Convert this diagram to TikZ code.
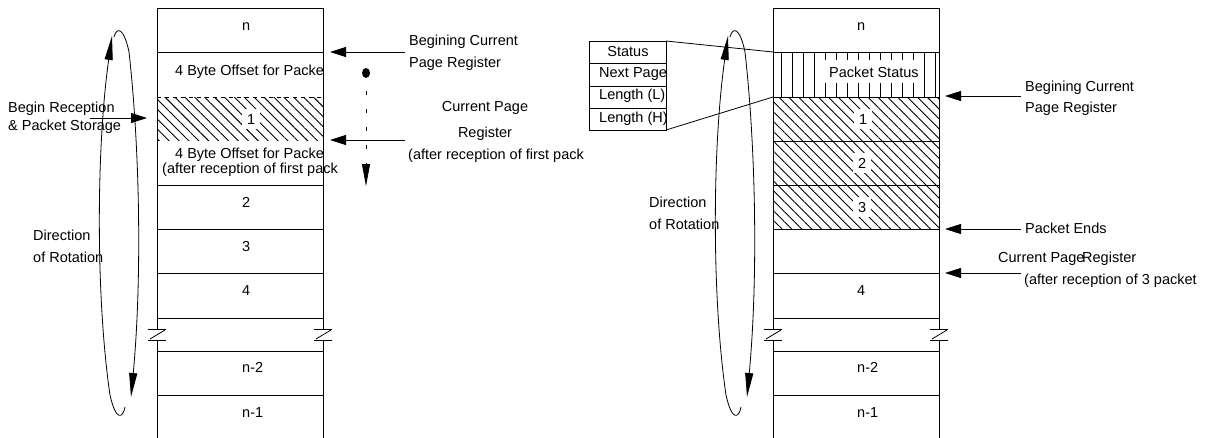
\documentclass[tikz,border=0pt]{standalone}
\usepackage{fontspec}
\setmainfont{Liberation Sans}
\usetikzlibrary{calc}
\usetikzlibrary{arrows.meta,patterns.meta}
\def\ColW{166}
\def\LeftX{157}
\def\RightX{773}
\def\Shift{616}
\def\GapTop{329}
\def\GapBot{340}

\begin{document}
\begin{tikzpicture}[x=1pt,y=-1pt,
  every node/.style={font=\fontsize{14.5}{15}\selectfont, inner sep=0pt, anchor=base west},
  wall/.style={line width=1pt},
  thin/.style={line width=.8pt},
  hatch/.style={pattern={Lines[angle=-45,distance=7pt,line width=.9pt]}},
  bars/.style={pattern={Lines[angle=90,distance=11pt,line width=.9pt]}},
  ptr/.style={line width=.8pt,-{Triangle[length=16pt,width=10pt]}},
  spin/.style={line width=.8pt,-{Triangle[length=24pt,width=8pt]}},
  cut/.style={fill=white, inner sep=5pt}]
  \useasboundingbox (0,0) rectangle (1208,437);
  % hatched packets
  \fill [hatch] (\LeftX,97) rectangle (\LeftX+\ColW,140);
  \fill [hatch] (\RightX,97) rectangle (\RightX+\ColW,229);
  \fill [bars] (\RightX,52) rectangle (\RightX+\ColW,97);
  % buffer rings
  \foreach \c in {\LeftX,\RightX}
    {
      \draw [wall] (\c,8) -- (\c+\ColW,8);
      \draw [wall] (\c,8) -- (\c,\GapTop) (\c,\GapBot) -- (\c,440);
      \draw [wall] (\c+\ColW,8) -- (\c+\ColW,\GapTop) (\c+\ColW,\GapBot) -- (\c+\ColW,440);
      \foreach \y in {52,185,229,273,318,351,395}
        \draw [wall] (\c,\y) -- (\c+\ColW,\y);
      % break marks
      \foreach \s in {\c,\c+\ColW}
        {
          \draw [thin] (\s-9,\GapTop) -- (\s+9,\GapTop);
          \draw [thin] (\s-9,\GapBot) -- (\s+9,\GapBot);
          \draw [thin] (\s-7,\GapBot-1) -- (\s+8,\GapTop+1);
        }
    }
  \draw [thin, dash pattern=on 4pt off 4pt] (\LeftX,97) -- (\LeftX+\ColW,97);
  \draw [wall] (\RightX,97) -- (\RightX+\ColW,97);
  \draw [wall] (\RightX,141) -- (\RightX+\ColW,141);
  % left ring labels
  \node (Ln) at (242,30) {n};
  \node (Loff) at (175,75) {4 Byte Offset for Packe};
  \node [cut] (L1) at (242,124) {1};
  \node (Loff2) at (175,158) {4 Byte Offset for Packe};
  \node (Lafter) at (162,173) {(after reception of first pack};
  \node (L2) at (242,207) {2};
  \node (L3) at (242,251) {3};
  \node (L4) at (242,295) {4};
  \node (Lm2) at (242,372) {n-2};
  \node (Lm1) at (242,417) {n-1};
  % right ring labels
  \node (Rn) at (857,30) {n};
  \node [fill=white, inner xsep=4pt, inner ysep=6pt] (Rstat) at (825,77) {Packet Status};
  \node [cut] (R1) at (854,124) {1};
  \node [cut] (R2) at (853,168) {2};
  \node [cut] (R3) at (853,212) {3};
  \node (R4) at (857,295) {4};
  \node (Rm2) at (857,372) {n-2};
  \node (Rm1) at (857,417) {n-1};
  % direction of rotation
  \foreach \dx in {0,\Shift}
    {
      \begin{scope}[xshift=\dx]
        \draw [spin] (125,407) .. controls (123,418) and (116,422) .. (110,395)
          .. controls (96,300) and (96,150) .. (112,36);
        \draw [spin] (114,37) .. controls (117,26) and (124,28) .. (129,52)
          .. controls (140,150) and (142,280) .. (131,397);
      \end{scope}
    }
  \node (LDir) at (33,240) {Direction};
  \node (LRot) at (33,262) {of Rotation};
  \node (RDir) at (649,207) {Direction};
  \node (RRot) at (649,229) {of Rotation};
  % left pointers
  \coordinate (RecFrom) at (90,118);
  \coordinate (RecTo) at (147,118);
  \coordinate (LBegFrom) at (405,52);
  \coordinate (LBegTo) at (330,52);
  \coordinate (LCurFrom) at (405,140);
  \coordinate (LCurTo) at (330,140);
  \coordinate (Dot) at (366,73);
  \coordinate (DotFrom) at (366,91);
  \coordinate (DotTo) at (366,186);
  \node (Rec1) at (8,112) {Begin Reception};
  \node (Rec2) at (8,130) {\& Packet Storage};
  \draw [ptr] (RecFrom) -- (RecTo);
  \draw [ptr] (LBegFrom) -- (LBegTo);
  \draw [ptr] (LCurFrom) -- (LCurTo);
  \fill (Dot) ellipse (4pt and 5pt);
  \draw [line width=.8pt, dash pattern=on 3.5pt off 14.5pt, -{Triangle[length=22pt,width=8pt]}] (DotFrom) -- (DotTo);
  \node (LBeg1) at (409,45) {Begining Current};
  \node (LBeg2) at (409,67) {Page Register};
  \node [anchor=base] (LCur1) at (485,111) {Current Page};
  \node [anchor=base] (LCur2) at (485,137) {Register};
  \node (LCur3) at (408,159) {(after reception of first pack};
  % status bytes
  \draw [wall] (589,41) rectangle (666,130);
  \foreach \y in {63,86,108}
    \draw [wall] (589,\y) -- (666,\y);
  \node [anchor=base] (Status) at (628,56) {Status};
  \node (Next) at (599,77) {Next Page};
  \node (LenL) at (599,99) {Length (L)};
  \node (LenH) at (599,122) {Length (H)};
  \coordinate (TabTop) at (666,41);
  \coordinate (TabBot) at (666,130);
  \coordinate (StatTop) at (\RightX,52);
  \coordinate (StatBot) at (\RightX,97);
  \draw [thin] (TabTop) -- (StatTop);
  \draw [thin] (TabBot) -- (StatBot);
  % right pointers
  \coordinate (RBegFrom) at (1021,96);
  \coordinate (RBegTo) at (945,96);
  \coordinate (EndFrom) at (1021,229);
  \coordinate (EndTo) at (945,229);
  \coordinate (RCurFrom) at (1021,273);
  \coordinate (RCurTo) at (945,273);
  \draw [ptr] (RBegFrom) -- (RBegTo);
  \draw [ptr] (EndFrom) -- (EndTo);
  \draw [ptr] (RCurFrom) -- (RCurTo);
  \node (RBeg1) at (1025,91) {Begining Current};
  \node (RBeg2) at (1025,112) {Page Register};
  \node (Ends) at (1025,233) {Packet Ends};
  \node (RCur1) at (998,262) {Current Page};
  \node (RCur2) at (1082,262) {Register};
  \node (RCur3) at (1024,284) {(after reception of 3 packet};
\end{tikzpicture}
\end{document}
